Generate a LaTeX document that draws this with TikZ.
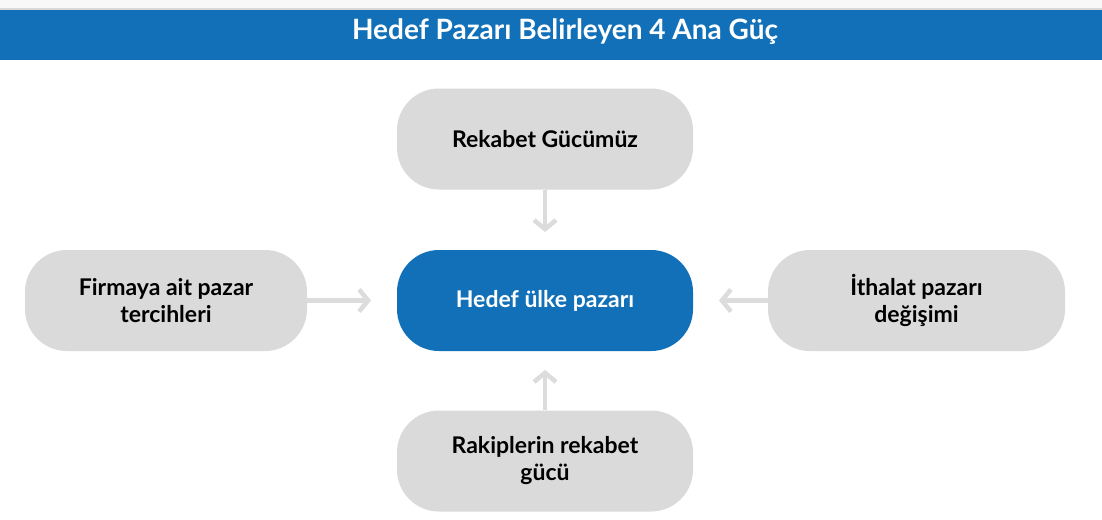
\documentclass[tikz,border=0pt]{standalone}
\usepackage{fontspec}
\setmainfont{Lato}
\usetikzlibrary{arrows.meta}
\definecolor{barblue}{HTML}{1170B8}
\definecolor{boxgray}{HTML}{DADADA}
\definecolor{arrgray}{HTML}{DCDCDC}
\definecolor{stripgray}{HTML}{F8F8F8}
\definecolor{linegray}{HTML}{D8D8D8}
\tikzset{
  box/.style={rounded corners=42pt, minimum width=296pt, minimum height=101pt,
    align=center, font=\fontsize{23}{27}\selectfont\bfseries, inner sep=0pt},
  graybox/.style={box, fill=boxgray, text=black},
  bluebox/.style={box, fill=barblue, text=white},
  conn/.style={draw=arrgray, line width=4.5pt,
    -{Straight Barb[length=9pt,width=22pt,line width=4.5pt]}},
}
\begin{document}
\begin{tikzpicture}[x=1pt,y=-1pt]
\useasboundingbox (0,0) rectangle (1102,519);
\fill[white] (0,0) rectangle (1102,519);
\fill[stripgray] (0,0) rectangle (1102,9);
\fill[linegray] (0,8.5) rectangle (1102,10);
\fill[barblue] (0,10) rectangle (1102,60.5);
\node[text=white, font=\fontsize{28}{32}\selectfont\bfseries] (title) at (565,32) {Hedef Pazarı Belirleyen 4 Ana Güç};

\node[bluebox] (center) at (545,300.5) {Hedef ülke pazarı};
\node[graybox] (top) at (545,139) {Rekabet Gücümüz};
\node[graybox] (bottom) at (545,461) {Rakiplerin rekabet\\gücü};
\node[graybox, minimum width=282pt] (left) at (166,300.5) {Firmaya ait pazar\\tercihleri};
\node[graybox, minimum width=297pt] (right) at (916.5,300.5) {İthalat pazarı\\değişimi};

\coordinate (ttip) at (545,232);
\coordinate (btip) at (545,370);
\coordinate (ltip) at (371,300.5);
\coordinate (rtip) at (719,300.5);
\draw[conn] (top.south) -- (ttip);
\draw[conn] (bottom.north) -- (btip);
\draw[conn] (left.east) -- (ltip);
\draw[conn] (right.west) -- (rtip);
\end{tikzpicture}
\end{document}
